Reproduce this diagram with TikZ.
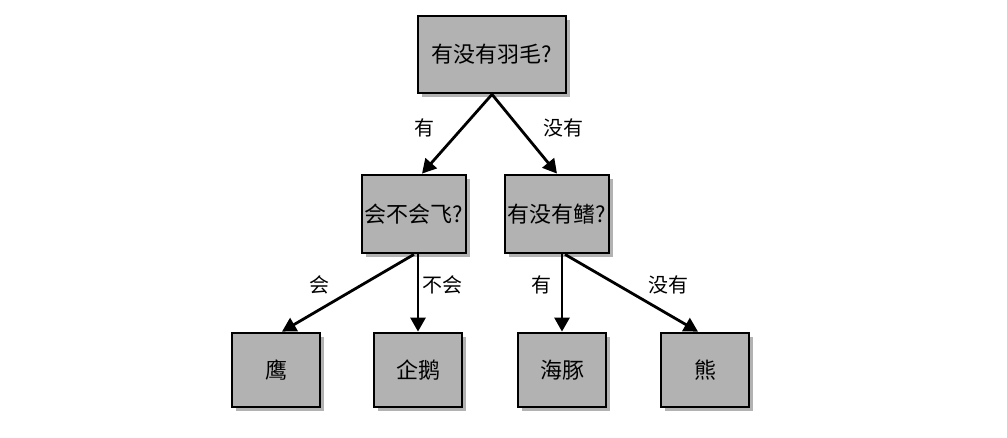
\documentclass[tikz,border=0pt]{standalone}
\usepackage{fontspec}
\newfontfamily\cjk{Noto Sans CJK SC}
\usetikzlibrary{arrows.meta,shadows}
\definecolor{boxgray}{RGB}{178,178,178}
\tikzset{
  box/.style={draw=black, line width=2.8pt, fill=boxgray, inner sep=0pt,
    drop shadow={shadow xshift=4pt, shadow yshift=-4pt, fill=black, opacity=0.3},
    font=\cjk\fontsize{22}{25}\selectfont},
  edge/.style={line width=2.8pt, -{Triangle[length=14pt,width=15pt]}},
  lbl/.style={font=\cjk\fontsize{20}{23}\selectfont}
}
\begin{document}
\begin{tikzpicture}[x=1pt,y=-1pt]
\useasboundingbox (0,0) rectangle (1007,437);
\node[box, minimum width=148pt, minimum height=77pt] (root) at (492,54.5) {有没有羽毛?};
\node[box, minimum width=104pt, minimum height=78pt] (fly) at (414,214) {会不会飞?};
\node[box, minimum width=104pt, minimum height=78pt] (fin) at (557,214) {有没有鳍?};
\node[box, minimum width=88pt, minimum height=74pt] (eagle) at (276,370) {鹰};
\node[box, minimum width=88pt, minimum height=74pt] (penguin) at (418,370) {企鹅};
\node[box, minimum width=88pt, minimum height=74pt] (dolphin) at (562,370) {海豚};
\node[box, minimum width=88pt, minimum height=74pt] (bear) at (705,370) {熊};
\draw[edge] (root.south) -- ([xshift=8pt]fly.north);
\draw[edge] (root.south) -- (fin.north);
\draw[edge] (fly.south) -- ([xshift=6pt]eagle.north);
\draw[edge] (penguin.north |- fly.south) -- (penguin.north);
\draw[edge] (dolphin.north |- fin.south) -- (dolphin.north);
\draw[edge] ([xshift=8pt]fin.south) -- ([xshift=-7pt]bear.north);
\node[lbl] (l1) at (424,128) {有};
\node[lbl] (l2) at (563,128) {没有};
\node[lbl] (l3) at (319,285) {会};
\node[lbl] (l4) at (442,285) {不会};
\node[lbl] (l5) at (541,285) {有};
\node[lbl] (l6) at (668,285) {没有};
\end{tikzpicture}
\end{document}
